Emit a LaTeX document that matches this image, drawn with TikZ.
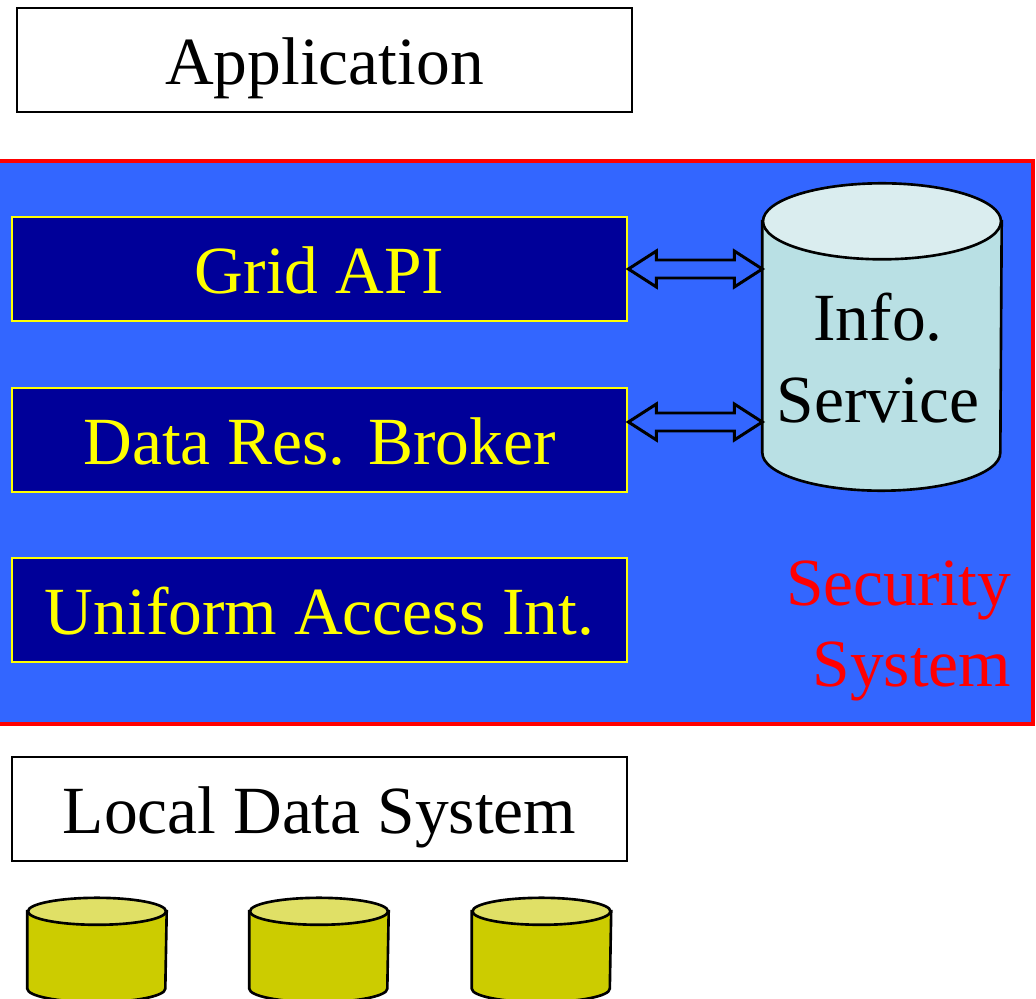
\documentclass[tikz,border=0pt]{standalone}
\usepackage{fontspec}
\setmainfont{Liberation Serif}
\usetikzlibrary{calc}
\definecolor{secblue}{RGB}{51,102,255}
\definecolor{secred}{RGB}{255,0,0}
\definecolor{apinavy}{RGB}{0,0,153}
\definecolor{apiyellow}{RGB}{255,255,0}
\definecolor{infoside}{RGB}{185,224,228}
\definecolor{infotop}{RGB}{218,237,239}
\definecolor{diskside}{RGB}{204,204,0}
\definecolor{disktop}{RGB}{224,224,102}

\begin{document}
\begin{tikzpicture}[x=1cm,y=1cm,
    plainbox/.style={draw=black, fill=white, line width=0.7pt, minimum width=6.15cm, minimum height=1.04cm, text height=0.5cm, text depth=0.01cm, font=\fontsize{19.2}{23}\selectfont},
    layerbox/.style={draw=apiyellow, fill=apinavy, text=apiyellow, line width=0.8pt, minimum width=6.15cm, minimum height=1.04cm, text height=0.5cm, text depth=0.01cm, font=\fontsize{19.2}{23}\selectfont},
    blockarrow/.style={draw=black, line width=0.85pt, line join=miter}]
    \useasboundingbox (0,0) rectangle (10.36,9.98);

    \node[plainbox] (app) at (3.245,9.38) {Application};

    % security layer with the grid services inside
    \node[draw=secred, fill=secblue, line width=1pt, minimum width=10.35cm, minimum height=5.63cm] (sec) at (5.155,5.555) {};
    \node[layerbox] (grid) at (3.195,7.29) {Grid API};
    \node[layerbox] (broker) at (3.195,5.58) {Data Res. Broker};
    \node[layerbox] (uai) at (3.195,3.88) {Uniform Access Int.};
    \node[text=secred, align=right, anchor=east, inner sep=0pt, font=\fontsize{19.2}{22.8}\selectfont] (seclabel) at (10.12,3.67) {Security\\System};

    % information service cylinder
    \node[minimum width=2.38cm, minimum height=2.30cm, inner sep=0pt] (info) at (8.82,6.61) {};
    \filldraw[fill=infoside, line width=0.75pt] (info.north west) -- (info.south west)
        arc[start angle=180, end angle=360, x radius=1.19cm, y radius=0.38cm] -- (info.north east) -- cycle;
    \filldraw[fill=infotop, line width=0.75pt] (info.north) ellipse[x radius=1.19cm, y radius=0.38cm];
    \node[align=center, font=\fontsize{19.2}{23.3}\selectfont] (infotext) at (8.78,6.40) {Info.\\Service};

    % hollow two-way arrows to the info service
    \foreach \src/\dy in {grid/0, broker/0.18} {
        \coordinate (from) at ($(\src.east)+(0,\dy)$);
        \coordinate (tip) at (from -| info.west);
        \draw[blockarrow] (from) -- ++(0.28,0.18) -- ++(0,-0.09) -- ($(tip)+(-0.28,0.09)$) -- ++(0,0.09) -- (tip)
            -- ++(-0.28,-0.18) -- ++(0,0.09) -- ($(from)+(0.28,-0.09)$) -- ++(0,-0.09) -- cycle;
    }

    \node[plainbox] (local) at (3.195,1.89) {Local Data System};

    % local storage disks
    \foreach \i/\x in {1/0.97, 2/3.19, 3/5.415} {
        \node[minimum width=1.38cm, minimum height=0.76cm, inner sep=0pt] (disk\i) at (\x,0.48) {};
        \filldraw[fill=diskside, line width=0.75pt] (disk\i.north west) -- (disk\i.south west)
            arc[start angle=180, end angle=360, x radius=0.69cm, y radius=0.135cm] -- (disk\i.north east) -- cycle;
        \filldraw[fill=disktop, line width=0.75pt] (disk\i.north) ellipse[x radius=0.69cm, y radius=0.135cm];
    }
\end{tikzpicture}
\end{document}
